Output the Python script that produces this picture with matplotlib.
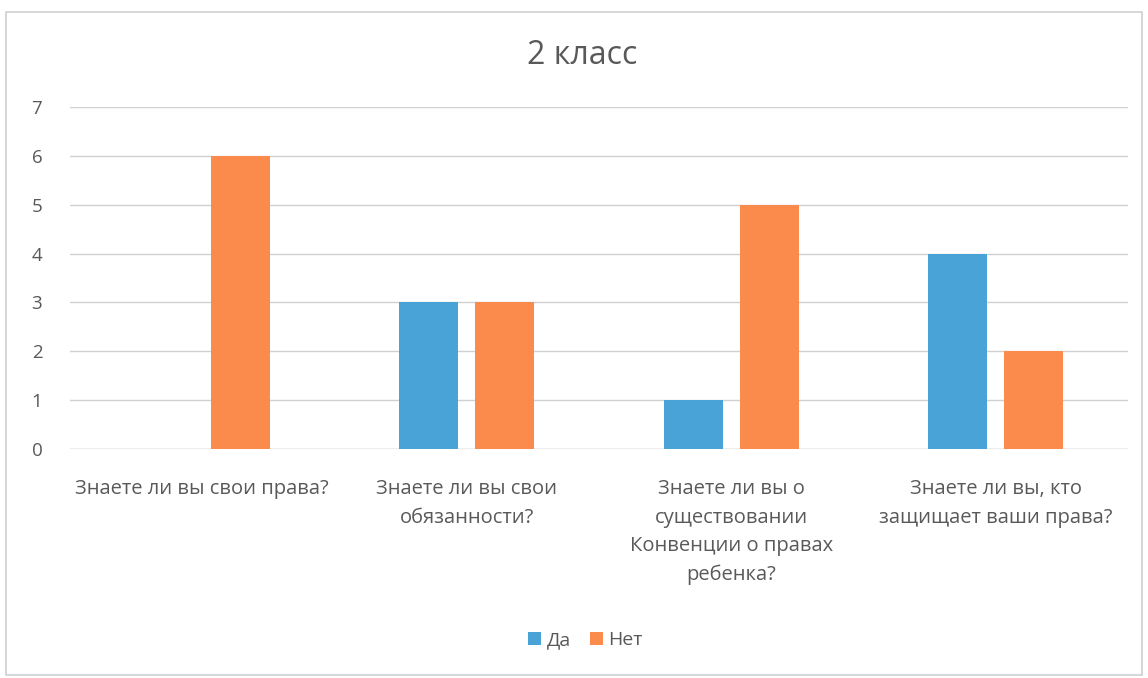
import matplotlib.pyplot as plt
import numpy as np
from matplotlib.patches import Rectangle

plt.rcParams['font.family'] = ['Open Sans', 'DejaVu Sans']

# Data
categories = ['Знаете ли вы свои права?',
              'Знаете ли вы свои\nобязанности?',
              'Знаете ли вы о\nсуществовании\nКонвенции о правах\nребенка?',
              'Знаете ли вы, кто\nзащищает ваши права?']
da = [0, 3, 1, 4]
net = [6, 3, 5, 2]

fig = plt.figure(figsize=(11.48, 6.78), dpi=100)
ax = fig.add_axes([0.061, 0.338, 0.9216, 0.504])

x = np.arange(len(categories))
w = 0.223
ax.bar(x - 0.144, da, w, color='#4aa3d6', label='Да', zorder=3)
ax.bar(x + 0.144, net, w, color='#fb8a4d', label='Нет', zorder=3)

ax.set_xlim(-0.5, len(categories) - 0.5)
ax.set_ylim(0, 7)
ax.set_yticks(range(8))
ax.yaxis.grid(True, color='#d0d0d0', linewidth=1)
ax.set_axisbelow(True)
for s in ax.spines.values():
    s.set_visible(False)
ax.tick_params(length=0, labelsize=13.5, colors='#595959', pad=20)
ax.tick_params(axis='x', pad=22)
ax.set_xticks(x)
ax.set_xticklabels(categories, fontsize=14.5, linespacing=1.55)
ax.axhline(0, color='#d0d0d0', linewidth=1, zorder=2)

fig.text(0.507, 0.918, '2 класс', ha='center', va='center', fontsize=23, color='#595959')

fig.legend(loc='center', bbox_to_anchor=(0.51, 0.056), ncol=2, frameon=False,
           fontsize=14, handlelength=0.65, handleheight=0.65, handletextpad=0.3,
           columnspacing=1.0, labelcolor='#595959')

fig.patches.append(Rectangle((0.005, 0.005), 0.99, 0.978, transform=fig.transFigure,
                             fill=False, edgecolor='#d0d0d0', linewidth=1.2))

fig.savefig('out.png', dpi=100)
